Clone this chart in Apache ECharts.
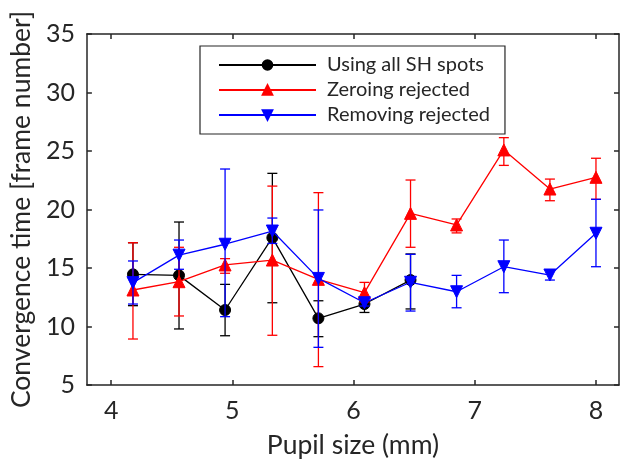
<!DOCTYPE html>
<html>
<head>
<meta charset="utf-8">
<script src="https://cdn.jsdelivr.net/npm/echarts@6/dist/echarts.min.js"></script>
<style>html,body{margin:0;padding:0;background:#fff}#c{width:632px;height:469px}</style>
</head>
<body>
<div id="c"></div>
<script>
// Data
const pupil = [4.18, 4.56, 4.94, 5.33, 5.71, 6.09, 6.47, 6.85, 7.24, 7.62, 8.0];
const xTicks = [4, 5, 6, 7, 8];
const yTicks = [5, 10, 15, 20, 25, 30, 35];

const allMean = [14.46, 14.37, 11.41, 17.59, 10.7, 11.92, 13.97];
const allLow  = [11.78, 9.79, 9.21, 12.03, 9.13, 11.2, 11.5];
const allHigh = [17.16, 18.93, 13.6, 23.09, 12.2, 12.55, 16.2];

const zeroMean = [13.12, 13.83, 15.26, 15.68, 14.03, 12.89, 19.67, 18.68, 25.09, 21.75, 22.75];
const zeroLow  = [8.93, 10.9, 14.55, 9.25, 6.57, 12.1, 16.77, 18.0, 23.77, 20.75, 20.87];
const zeroHigh = [17.16, 16.77, 15.8, 22.0, 21.44, 13.77, 22.52, 19.19, 26.14, 22.6, 24.38];

const remMean = [13.75, 16.1, 17.03, 18.16, 14.11, 12.03, 13.78, 12.97, 15.11, 14.4, 17.97];
const remLow  = [11.92, 14.89, 10.84, 17.1, 8.22, 11.75, 11.32, 11.6, 12.89, 13.97, 15.11];
const remHigh = [15.6, 17.39, 23.46, 19.27, 19.96, 12.3, 16.17, 14.37, 17.39, 14.8, 20.87];

const names = ['Using all SH spots', 'Zeroing rejected', 'Removing rejected'];

const FONT = 'Lato';
const AX = '#262626';

function pts(m) { return m.map((v, i) => [pupil[i], v]); }
function bars(lo, hi) { return lo.map((v, i) => [pupil[i], v, hi[i]]); }

function errSeries(name, color, lo, hi, z) {
  return {
    type: 'custom',
    name: name + ' err',
    z: z,
    silent: true,
    data: bars(lo, hi),
    encode: { x: 0, y: [1, 2] },
    renderItem: function (params, api) {
      const x = api.value(0);
      const a = api.coord([x, api.value(1)]);
      const b = api.coord([x, api.value(2)]);
      const w = 5;
      const st = { stroke: color, lineWidth: 1.3 };
      return {
        type: 'group',
        children: [
          { type: 'line', shape: { x1: a[0], y1: a[1], x2: b[0], y2: b[1] }, style: st },
          { type: 'line', shape: { x1: a[0] - w, y1: a[1], x2: a[0] + w, y2: a[1] }, style: st },
          { type: 'line', shape: { x1: b[0] - w, y1: b[1], x2: b[0] + w, y2: b[1] }, style: st }
        ]
      };
    }
  };
}

function lineSeries(name, color, data, symbol, size, z) {
  return {
    type: 'line',
    name: name,
    z: z,
    data: data,
    symbol: symbol,
    symbolSize: size,
    showAllSymbol: true,
    lineStyle: { color: color, width: 1.3 },
    itemStyle: { color: color, borderColor: color, borderWidth: 1 },
    emphasis: { disabled: true },
    animation: false
  };
}

const chart = echarts.init(document.getElementById('c'), null, { renderer: 'canvas' });

const xBase = { type: 'value', min: 3.8, max: 8.19 };
const yBase = { type: 'value', min: 5, max: 35, interval: 5 };

chart.setOption({
  animation: false,
  grid: { left: 85, right: 13, top: 34, bottom: 84, containLabel: false },
  legend: {
    data: names,
    orient: 'vertical',
    left: 200,
    top: 46,
    backgroundColor: '#fff',
    borderColor: AX,
    borderWidth: 1.2,
    borderRadius: 0,
    padding: [9, 15, 9, 18],
    itemWidth: 97,
    itemHeight: 12,
    itemGap: 5,
    textStyle: { fontFamily: FONT, fontSize: 20, lineHeight: 20, color: AX, padding: [0, 0, 0, 6] }
  },
  xAxis: [
    Object.assign({}, xBase, {
      position: 'bottom',
      name: 'Pupil size (mm)',
      nameLocation: 'middle',
      nameGap: 47,
      nameTextStyle: { fontFamily: FONT, fontSize: 26.5, color: AX },
      axisLine: { show: true, onZero: false, lineStyle: { color: AX, width: 1.5 } },
      axisTick: { show: true, inside: true, length: 5, customValues: xTicks, lineStyle: { color: AX, width: 1.5 } },
      axisLabel: { customValues: xTicks, fontFamily: FONT, fontSize: 25, color: AX, margin: 13 },
      splitLine: { show: false }
    }),
    Object.assign({}, xBase, {
      position: 'top',
      axisLine: { show: true, onZero: false, lineStyle: { color: AX, width: 1.5 } },
      axisTick: { show: true, inside: true, length: 5, customValues: xTicks, lineStyle: { color: AX, width: 1.5 } },
      axisLabel: { show: false },
      splitLine: { show: false }
    })
  ],
  yAxis: [
    Object.assign({}, yBase, {
      position: 'left',
      name: 'Convergence time [frame number]',
      nameLocation: 'middle',
      nameGap: 48,
      nameRotate: 90,
      nameTextStyle: { fontFamily: FONT, fontSize: 26.5, color: AX },
      axisLine: { show: true, onZero: false, lineStyle: { color: AX, width: 1.5 } },
      axisTick: { show: true, inside: true, length: 5, lineStyle: { color: AX, width: 1.5 } },
      axisLabel: { fontFamily: FONT, fontSize: 25, color: AX, margin: 12,
        formatter: v => (yTicks.indexOf(v) >= 0 ? String(v) : '') },
      splitLine: { show: false }
    }),
    Object.assign({}, yBase, {
      position: 'right',
      axisLine: { show: true, onZero: false, lineStyle: { color: AX, width: 1.5 } },
      axisTick: { show: true, inside: true, length: 5, lineStyle: { color: AX, width: 1.5 } },
      axisLabel: { show: false },
      splitLine: { show: false }
    })
  ],
  series: [
    errSeries(names[0], '#000000', allLow, allHigh, 1),
    lineSeries(names[0], '#000000', pts(allMean), 'circle', 11, 2),
    errSeries(names[1], '#ff0000', zeroLow, zeroHigh, 3),
    lineSeries(names[1], '#ff0000', pts(zeroMean), 'triangle', 12, 4),
    errSeries(names[2], '#0000ff', remLow, remHigh, 5),
    lineSeries(names[2], '#0000ff', pts(remMean), 'path://M0,0 L10,0 L5,9 Z', 12, 6)
  ]
});
</script>
</body>
</html>
